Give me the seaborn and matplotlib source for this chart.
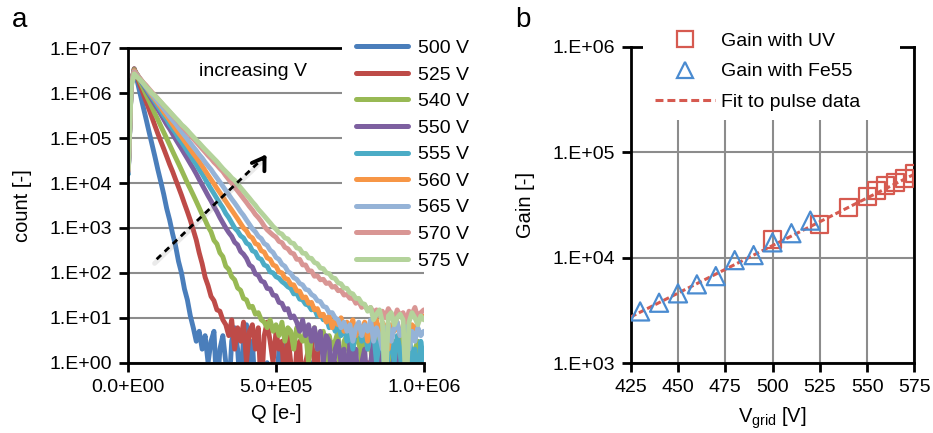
import numpy as np
import pandas as pd
import matplotlib
matplotlib.use("Agg")
import matplotlib.pyplot as plt
import matplotlib.transforms as mtransforms
import seaborn as sns
from matplotlib.lines import Line2D
from matplotlib.patches import Rectangle
from matplotlib.ticker import NullLocator

# ---------------------------------------------------------------------------
# Panel a: charge spectra (counts per 1e4 e- bin) for each grid voltage
# ---------------------------------------------------------------------------
q_bins = np.arange(101) * 1.0e4  # bin positions, 0 ... 1e6 electrons

voltages = ["500 V", "525 V", "540 V", "550 V", "555 V",
            "560 V", "565 V", "570 V", "575 V"]

counts_500 = [
    16000, 1.6e6, 3.5e6, 1.9e6, 9.8e5, 5.1e5, 2.7e5, 1.4e5, 7.4e4, 3.9e4,
    2.0e4, 1.07e4, 5600, 2700, 1500, 740, 400, 180, 100, 44,
    25, 11, 6, 3, 5, 2, 4, 1, 3, 5,
    0, 2, 4, 1, 0, 3, 6, 2, 0, 4,
    7, 1, 3, 0, 0, 2, 0, 1, 0, 0,
    0, 2, 1, 3, 0, 1, 0, 0, 1, 0,
    0, 0, 1, 0, 0, 0, 0, 1, 0, 0,
    0, 0, 0, 0, 0, 0, 0, 0, 0, 0,
    0, 0, 0, 0, 0, 0, 0, 0, 0, 0,
    0, 0, 0, 0, 0, 0, 0, 0, 0, 0, 0]

counts_525 = [
    18000, 1.6e6, 3.5e6, 2.3e6, 1.5e6, 1.0e6, 6.6e5, 4.4e5, 2.9e5, 1.9e5,
    1.26e5, 8.5e4, 5.8e4, 3.9e4, 2.6e4, 1.8e4, 1.2e4, 8100, 5400, 3500,
    2300, 1480, 900, 540, 280, 160, 80, 52, 30, 24,
    15, 14, 9, 7, 4, 9, 2, 6, 3, 8,
    1, 5, 7, 2, 6, 0, 4, 8, 3, 1,
    5, 2, 3, 0, 4, 1, 0, 2, 3, 0,
    1, 2, 3, 1, 2, 0, 1, 0, 2, 0,
    1, 0, 0, 1, 0, 2, 0, 0, 1, 0,
    0, 1, 0, 0, 0, 1, 0, 0, 0, 1,
    0, 0, 1, 0, 0, 0, 1, 0, 0, 0, 0]

counts_540 = [
    17000, 1.6e6, 3.4e6, 2.45e6, 1.8e6, 1.3e6, 9.3e5, 6.8e5, 4.9e5, 3.5e5,
    2.6e5, 1.86e5, 1.35e5, 9.8e4, 7.1e4, 5.1e4, 3.7e4, 2.7e4, 1.95e4, 1.4e4,
    1.0e4, 7400, 5400, 3900, 2800, 2000, 1500, 1070, 820, 530,
    440, 280, 230, 140, 120, 82, 70, 46, 41, 27,
    25, 17, 18, 12, 13, 9, 8, 6, 9, 5,
    7, 4, 8, 3, 6, 5, 2, 6, 4, 3,
    5, 1, 4, 6, 2, 3, 5, 1, 4, 2,
    3, 5, 0, 3, 4, 1, 2, 4, 3, 1,
    5, 2, 3, 0, 2, 4, 1, 3, 2, 0,
    3, 1, 4, 2, 1, 3, 0, 2, 3, 1, 2]

counts_550 = [
    17000, 1.7e6, 3.3e6, 2.6e6, 2.0e6, 1.55e6, 1.2e6, 9.3e5, 7.2e5, 5.6e5,
    4.4e5, 3.4e5, 2.6e5, 2.0e5, 1.6e5, 1.23e5, 9.5e4, 7.4e4, 5.8e4, 4.5e4,
    3.5e4, 2.7e4, 2.1e4, 1.6e4, 1.2e4, 9100, 6900, 5200, 4000, 3000,
    2300, 1700, 1300, 1000, 790, 650, 480, 420, 300, 260,
    210, 150, 135, 95, 88, 66, 62, 45, 44, 32,
    31, 22, 21, 15, 16, 10, 11, 8, 5, 9,
    4, 7, 3, 6, 2, 5, 1, 4, 3, 0,
    2, 3, 1, 2, 0, 3, 1, 2, 0, 1,
    2, 0, 1, 3, 0, 1, 2, 0, 1, 0,
    2, 1, 0, 1, 0, 2, 0, 1, 0, 1, 0]

counts_555 = [
    16000, 1.6e6, 3.2e6, 2.6e6, 2.0e6, 1.6e6, 1.3e6, 1.0e6, 8.1e5, 6.5e5,
    5.1e5, 4.1e5, 3.2e5, 2.6e5, 2.0e5, 1.6e5, 1.3e5, 1.0e5, 8.1e4, 6.5e4,
    5.1e4, 4.1e4, 3.2e4, 2.6e4, 2.0e4, 1.6e4, 1.23e4, 9500, 7400, 5800,
    4500, 3500, 2800, 2100, 1700, 1300, 1000, 850, 670, 600,
    460, 420, 310, 290, 215, 200, 150, 140, 105, 100,
    82, 76, 64, 57, 49, 45, 34, 35, 26, 25,
    20, 19, 15, 16, 11, 12, 9, 10, 6, 8,
    5, 8, 4, 7, 3, 6, 2, 5, 7, 3,
    6, 2, 4, 5, 1, 3, 4, 0, 2, 3,
    1, 4, 2, 0, 3, 5, 1, 2, 0, 3, 1]

counts_560 = [
    18000, 1.7e6, 3.2e6, 2.6e6, 2.1e6, 1.7e6, 1.4e6, 1.1e6, 8.9e5, 7.3e5,
    5.9e5, 4.8e5, 3.8e5, 3.1e5, 2.5e5, 2.0e5, 1.6e5, 1.3e5, 1.07e5, 8.6e4,
    7.0e4, 5.6e4, 4.5e4, 3.7e4, 3.0e4, 2.4e4, 1.9e4, 1.5e4, 1.2e4, 9600,
    7600, 6100, 4900, 3900, 3100, 2500, 2000, 1600, 1260, 1000,
    860, 660, 600, 450, 420, 310, 290, 215, 200, 150,
    140, 105, 100, 76, 72, 55, 54, 40, 39, 28,
    29, 21, 22, 15, 16, 11, 12, 8, 11, 6,
    9, 7, 10, 5, 8, 6, 9, 4, 7, 5,
    8, 3, 7, 6, 9, 4, 8, 6, 2, 7,
    5, 8, 4, 6, 9, 3, 7, 5, 8, 10, 11]

counts_565 = [
    17000, 1.6e6, 3.0e6, 2.5e6, 2.1e6, 1.7e6, 1.4e6, 1.15e6, 9.6e5, 7.9e5,
    6.5e5, 5.4e5, 4.5e5, 3.7e5, 3.0e5, 2.5e5, 2.1e5, 1.7e5, 1.4e5, 1.15e5,
    9.5e4, 7.8e4, 6.4e4, 5.3e4, 4.3e4, 3.6e4, 2.9e4, 2.4e4, 2.0e4, 1.6e4,
    1.3e4, 1.05e4, 8500, 6800, 5500, 4400, 3600, 2900, 2300, 1900,
    1500, 1200, 960, 820, 650, 580, 450, 410, 320, 285,
    220, 200, 155, 140, 108, 97, 78, 72, 58, 54,
    43, 41, 33, 30, 24, 23, 18, 17, 13, 13,
    10, 9, 6, 8, 5, 7, 3, 6, 8, 4,
    7, 5, 9, 3, 6, 4, 2, 5, 7, 3,
    6, 8, 4, 5, 7, 2, 5, 3, 6, 4, 5]

counts_570 = [
    19000, 1.5e6, 2.9e6, 2.4e6, 2.1e6, 1.75e6, 1.5e6, 1.25e6, 1.05e6, 8.9e5,
    7.5e5, 6.3e5, 5.3e5, 4.5e5, 3.8e5, 3.2e5, 2.7e5, 2.3e5, 1.9e5, 1.6e5,
    1.35e5, 1.15e5, 9.7e4, 8.2e4, 6.9e4, 5.8e4, 4.9e4, 4.1e4, 3.5e4, 2.9e4,
    2.5e4, 2.1e4, 1.8e4, 1.45e4, 1.2e4, 9900, 8100, 6700, 5500, 4500,
    3700, 3000, 2500, 2000, 1700, 1400, 1100, 910, 790, 690,
    620, 500, 470, 370, 345, 280, 265, 200, 200, 150,
    150, 112, 110, 84, 86, 70, 72, 58, 60, 48,
    50, 40, 41, 32, 33, 27, 28, 21, 23, 17,
    19, 15, 17, 13, 15, 11, 14, 10, 16, 12,
    9, 15, 11, 13, 8, 14, 12, 17, 10, 13, 15]

counts_575 = [
    20000, 1.4e6, 2.7e6, 2.3e6, 2.0e6, 1.7e6, 1.4e6, 1.2e6, 1.0e6, 8.8e5,
    7.5e5, 6.4e5, 5.4e5, 4.6e5, 3.9e5, 3.3e5, 2.8e5, 2.4e5, 2.0e5, 1.75e5,
    1.5e5, 1.26e5, 1.07e5, 9.1e4, 7.8e4, 6.6e4, 5.6e4, 4.8e4, 4.1e4, 3.5e4,
    3.0e4, 2.5e4, 2.1e4, 1.8e4, 1.55e4, 1.3e4, 1.15e4, 9500, 7900, 6600,
    5500, 4600, 3800, 3200, 2600, 2200, 1850, 1550, 1300, 1080,
    940, 780, 730, 600, 570, 470, 450, 360, 345, 275,
    270, 215, 210, 170, 160, 128, 124, 100, 96, 78,
    75, 60, 57, 46, 45, 36, 34, 27, 27, 21,
    20, 14, 17, 9, 12, 15, 8, 0, 11, 13,
    7, 10, 12, 9, 0, 8, 13, 10, 7, 11, 9]

spectra = [counts_500, counts_525, counts_540, counts_550, counts_555,
           counts_560, counts_565, counts_570, counts_575]

line_colors = ["#4A7EBB", "#BE4B48", "#98B954", "#7D60A0", "#4BACC6",
               "#F79646", "#95B3D7", "#D99694", "#B4D39B"]

y_ticks_a = [1, 1e1, 1e2, 1e3, 1e4, 1e5, 1e6, 1e7]
y_ticklabels_a = ["1.E+00", "1.E+01", "1.E+02", "1.E+03",
                  "1.E+04", "1.E+05", "1.E+06", "1.E+07"]
x_ticks_a = [0, 5e5, 1e6]
x_ticklabels_a = ["0.0+E00", "5.0+E05", "1.0+E06"]

# ---------------------------------------------------------------------------
# Panel b: gain versus grid voltage
# ---------------------------------------------------------------------------
uv_voltage = [500, 525, 540, 550, 555, 560, 565, 570, 575]
uv_gain = [14800, 20500, 30000, 38000, 43000, 48000, 52000, 57000, 63000]

fe55_voltage = [430, 440, 450, 460, 470, 480, 490, 500, 510, 520]
fe55_gain = [3100, 3750, 4600, 5600, 6700, 9500, 10600, 14000, 17100, 22500]

fit_voltage = [425, 575]
fit_gain = [2750, 62000]

x_ticks_b = [425, 450, 475, 500, 525, 550, 575]
y_ticks_b = [1e3, 1e4, 1e5, 1e6]
y_ticklabels_b = ["1.E+03", "1.E+04", "1.E+05", "1.E+06"]

# ---------------------------------------------------------------------------
sns.set_theme(style="white")
plt.rcParams["font.family"] = ["Liberation Sans", "DejaVu Sans"]
plt.rcParams["mathtext.fontset"] = "custom"
plt.rcParams["mathtext.rm"] = "Liberation Sans"
plt.rcParams["mathtext.it"] = "Liberation Sans"
plt.rcParams["text.color"] = "black"
plt.rcParams["axes.labelcolor"] = "black"
plt.rcParams["xtick.color"] = "black"
plt.rcParams["ytick.color"] = "black"

GRID = "#8c8c8c"
RED = "#D65A50"
BLUE = "#4A8BD0"
TICK_FS = 14
LEGEND_FS = 14
LABEL_FS = 14.5

fig = plt.figure(figsize=(9.33, 4.33), dpi=100)
ax = fig.add_axes([0.1375, 0.1624, 0.3167, 0.7261])
ax2 = fig.add_axes([0.676, 0.161, 0.304, 0.731])


def style_axes(a):
    for side in ("left", "bottom", "top", "right"):
        a.spines[side].set_color("black")
        a.spines[side].set_linewidth(2.0)
    a.tick_params(axis="both", which="major", direction="out", length=6.5,
                  width=2.0, color="black", labelcolor="black",
                  labelsize=TICK_FS, pad=5,
                  left=True, bottom=True, top=False, right=False)
    a.set_axisbelow(True)


# ---- panel a ----
frames = []
for label, counts in zip(voltages, spectra):
    c = np.asarray(counts, dtype=float)
    frames.append(pd.DataFrame({
        "Q": q_bins,
        # empty bins fall below the 1-count floor of the log axis
        "count": np.where(c > 0, c, 0.2),
        "voltage": label,
    }))
spec_df = pd.concat(frames, ignore_index=True)

sns.lineplot(data=spec_df, x="Q", y="count", hue="voltage",
             hue_order=voltages, palette=line_colors, estimator=None,
             sort=False, legend=False, lw=3.5, ax=ax,
             solid_joinstyle="round", solid_capstyle="round")

ax.set_yscale("log")
ax.set_xlim(0, 1e6)
ax.set_ylim(1, 1e7)
ax.set_xticks(x_ticks_a)
ax.set_xticklabels(x_ticklabels_a)
ax.set_yticks(y_ticks_a)
ax.set_yticklabels(y_ticklabels_a)
ax.yaxis.set_minor_locator(NullLocator())
style_axes(ax)
ax.spines["right"].set_visible(False)
ax.grid(axis="y", color=GRID, lw=1.5)
ax.grid(axis="x", visible=False)

ax.set_xlabel("Q [e-]", fontsize=LABEL_FS)
ax.set_ylabel("count [-]", fontsize=LABEL_FS)
ax.xaxis.set_label_coords(0.5, -0.131)
ax.yaxis.set_label_coords(-0.326, 0.5)

# white panel behind the legend
ax.add_patch(Rectangle((0.723, 0.30), 0.46, 0.80, transform=ax.transAxes,
                       facecolor="white", edgecolor="none", zorder=2.6,
                       clip_on=False))
handles_a = [Line2D([], [], color=c, lw=3.6, solid_capstyle="round")
             for c in line_colors]
ax.legend(handles_a, voltages, loc="upper left",
          bbox_to_anchor=(0.771, 1.028), frameon=False, borderpad=0,
          borderaxespad=0, handlelength=2.67, handletextpad=0.5,
          labelspacing=0.46, fontsize=LEGEND_FS)

ax.text(0.239, 0.912, "increasing V", transform=ax.transAxes,
        fontsize=14, va="baseline", ha="left")

# dashed trend arrow with a soft drop shadow
shadow = mtransforms.offset_copy(ax.transAxes, fig=fig, x=-1.5, y=-3.0,
                                 units="points")
ax.plot([0.096, 0.462], [0.329, 0.656], transform=shadow,
        color="#9a9a9a", alpha=0.2, lw=3.5, solid_capstyle="round",
        zorder=3.9)
ax.plot([0.096, 0.462], [0.329, 0.656], transform=ax.transAxes,
        color="black", lw=2.0, ls=(0, (2.2, 1.8)), zorder=4)
ax.annotate("", xy=(0.473, 0.670), xytext=(0.452, 0.640),
            xycoords="axes fraction", textcoords="axes fraction",
            arrowprops=dict(arrowstyle="->,head_length=0.7,head_width=0.45",
                            lw=2.8, color="black"), zorder=4)

# ---- panel b ----
sns.lineplot(x=fit_voltage, y=fit_gain, ax=ax2, color=RED, lw=2.2,
             linestyle=(0, (2.0, 1.0)), zorder=3)
sns.scatterplot(x=uv_voltage, y=uv_gain, ax=ax2, marker="s", s=150,
                facecolors="none", edgecolor=RED, linewidth=1.6, zorder=4)
sns.scatterplot(x=fe55_voltage, y=fe55_gain, ax=ax2, marker="^", s=170,
                facecolors="none", edgecolor=BLUE, linewidth=1.6, zorder=5)

ax2.set_yscale("log")
ax2.set_xlim(425, 575)
ax2.set_ylim(1e3, 1e6)
ax2.set_xticks(x_ticks_b)
ax2.set_xticklabels([str(v) for v in x_ticks_b])
ax2.set_yticks(y_ticks_b)
ax2.set_yticklabels(y_ticklabels_b)
ax2.yaxis.set_minor_locator(NullLocator())
style_axes(ax2)
ax2.grid(True, color=GRID, lw=1.5)

ax2.set_xlabel(r"V$_{\mathregular{grid}}$ [V]", fontsize=LABEL_FS)
ax2.set_ylabel("Gain [-]", fontsize=LABEL_FS)
ax2.xaxis.set_label_coords(0.5, -0.132)
ax2.yaxis.set_label_coords(-0.337, 0.5)

ax2.add_patch(Rectangle((0.043, 0.768), 0.907, 0.35, transform=ax2.transAxes,
                        facecolor="white", edgecolor="none", zorder=2.6,
                        clip_on=False))
handles_b = [
    Line2D([], [], marker="s", ls="", mfc="none", mec=RED, ms=12, mew=1.6),
    Line2D([], [], marker="^", ls="", mfc="none", mec=BLUE, ms=12, mew=1.6),
    Line2D([], [], color=RED, lw=2.2, ls=(0, (2.6, 1.3))),
]
labels_b = ["Gain with UV", "Gain with Fe55", "Fit to pulse data"]
ax2.legend(handles_b, labels_b, loc="upper left",
           bbox_to_anchor=(0.0857, 1.045), frameon=False, borderpad=0,
           borderaxespad=0, handlelength=3.09, handletextpad=0.29,
           labelspacing=0.65, fontsize=LEGEND_FS)

# panel letters
fig.text(12 / 933, 1 - 27 / 433, "a", fontsize=20, va="baseline")
fig.text(515 / 933, 1 - 27 / 433, "b", fontsize=20, va="baseline")

fig.savefig("out.png", dpi=100, facecolor="white")
